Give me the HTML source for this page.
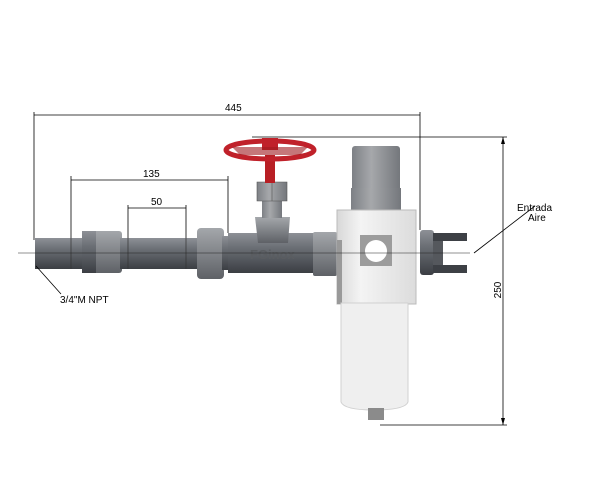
<!DOCTYPE html><html><head><style>body{margin:0;background:#fff}svg{display:block}text{font-family:"Liberation Sans",sans-serif;fill:#000}</style></head><body>
<svg width="600" height="500" viewBox="0 0 600 500">
<defs>
<linearGradient id="g" x1="0" y1="0" x2="0" y2="1"><stop offset="0" stop-color="#8d9096"/><stop offset=".35" stop-color="#6c7076"/><stop offset="1" stop-color="#3b3e43"/></linearGradient>
<linearGradient id="gl" x1="0" y1="0" x2="0" y2="1"><stop offset="0" stop-color="#a4a7ab"/><stop offset="1" stop-color="#5e6166"/></linearGradient>
<linearGradient id="w" x1="0" y1="0" x2="1" y2="0"><stop offset="0" stop-color="#d8d8d8"/><stop offset=".3" stop-color="#f4f4f4"/><stop offset="1" stop-color="#dcdcdc"/></linearGradient>
<linearGradient id="cap" x1="0" y1="0" x2="1" y2="0"><stop offset="0" stop-color="#7d8085"/><stop offset=".4" stop-color="#a6a8ab"/><stop offset="1" stop-color="#74777c"/></linearGradient>
</defs>
<!-- pipes -->
<rect x="35" y="238" width="48" height="31" fill="url(#g)"/>
<rect x="82" y="231" width="40" height="42" rx="3" fill="url(#gl)"/>
<rect x="82" y="231" width="14" height="42" fill="url(#g)"/>
<rect x="120" y="238" width="80" height="31" fill="url(#g)"/>
<rect x="197" y="228" width="27" height="51" rx="4" fill="url(#gl)"/>
<rect x="222" y="236" width="8" height="34" fill="url(#g)"/>
<rect x="228" y="233" width="86" height="40" fill="url(#g)"/>
<text x="250" y="259" font-size="13" font-weight="bold" fill="#55585c" style="fill:#5a5d61">FGinox</text>
<rect x="313" y="232" width="24" height="44" rx="2" fill="url(#gl)"/>
<line x1="128" y1="238" x2="128" y2="269" stroke="#333" stroke-width=".7"/>
<line x1="71" y1="238" x2="71" y2="269" stroke="#333" stroke-width=".7"/>
<line x1="186" y1="238" x2="186" y2="269" stroke="#333" stroke-width=".7"/>
<!-- valve -->
<path d="M255 217 H290 L288 243 H258 Z" fill="url(#gl)"/>
<rect x="262" y="199" width="20" height="19" fill="url(#cap)"/>
<path d="M257 182 H287 V201 H257 Z" fill="url(#cap)" stroke="#555" stroke-width=".6"/>
<line x1="272" y1="182" x2="272" y2="201" stroke="#555" stroke-width=".6"/>
<rect x="265" y="155" width="10" height="28" fill="#b81f24"/>
<ellipse cx="270" cy="150" rx="44" ry="9" fill="none" stroke="#c0212a" stroke-width="5"/>
<rect x="262" y="138" width="16" height="12" fill="#c0212a"/>
<path d="M232 147 L308 147 L300 155 L240 155Z" fill="#9e1a20" opacity=".6"/>
<!-- filter -->
<rect x="352" y="146" width="48" height="46" rx="3" fill="url(#cap)"/>
<rect x="351" y="188" width="50" height="24" fill="url(#cap)"/>
<rect x="337" y="210" width="79" height="94" fill="url(#w)" stroke="#bbb"/>
<rect x="337" y="240" width="5" height="64" fill="#999"/>
<rect x="360" y="235" width="32" height="31" fill="#9c9c9c"/>
<circle cx="376" cy="251" r="11" fill="#fff"/>
<path d="M341 303 H408 V402 Q405 410 374 410 Q344 410 341 402 Z" fill="#efefef" stroke="#d0d0d0"/>
<rect x="368" y="408" width="16" height="12" fill="#8b8b8b"/>
<!-- right connector -->
<rect x="420" y="230" width="14" height="45" rx="3" fill="url(#g)"/>
<rect x="433" y="233" width="34" height="8" fill="#3d4045"/>
<rect x="433" y="265" width="34" height="8" fill="#3d4045"/>
<rect x="433" y="241" width="10" height="24" fill="#55585d"/>
<!-- center line -->
<line x1="18" y1="253" x2="470" y2="253" stroke="#222" stroke-width=".6"/>
<!-- dims -->
<g stroke="#000" stroke-width=".8" fill="none">
<line x1="34" y1="112" x2="34" y2="240"/><line x1="420" y1="112" x2="420" y2="230"/><line x1="34" y1="115" x2="420" y2="115"/>
<line x1="71" y1="176" x2="71" y2="238"/><line x1="228" y1="176" x2="228" y2="233"/><line x1="71" y1="180" x2="228" y2="180"/>
<line x1="128" y1="205" x2="128" y2="238"/><line x1="186" y1="205" x2="186" y2="238"/><line x1="128" y1="208" x2="186" y2="208"/>
<line x1="252" y1="137" x2="507" y2="137"/><line x1="380" y1="425" x2="507" y2="425"/><line x1="503" y1="137" x2="503" y2="425"/>
<line x1="535" y1="206" x2="474" y2="253"/><line x1="36" y1="266" x2="61" y2="294"/>
</g>
<g fill="#000"><path d="M503 137 l-2 7 h4z"/><path d="M503 425 l-2 -7 h4z"/></g>
<text x="225" y="111" font-size="10">445</text>
<text x="143" y="177" font-size="10">135</text>
<text x="151" y="205" font-size="10">50</text>
<text x="60" y="303" font-size="10">3/4"M NPT</text>
<text x="517" y="211" font-size="10">Entrada</text>
<text x="528" y="221" font-size="10">Aire</text>
<text x="501" y="290" font-size="10" transform="rotate(-90 501 290)" text-anchor="middle">250</text>
</svg></body></html>
